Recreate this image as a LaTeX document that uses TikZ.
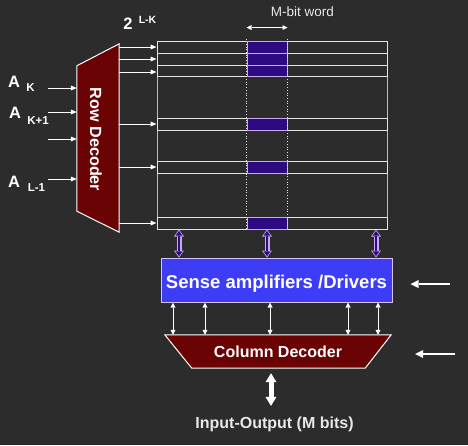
\documentclass[tikz,border=0pt]{standalone}
\usepackage{fontspec}
\setmainfont{Liberation Sans}
\usetikzlibrary{arrows.meta,backgrounds}
\definecolor{bgc}{HTML}{2C2C2C}
\definecolor{rowc}{HTML}{E4E4E4}
\definecolor{framec}{HTML}{BDBDBD}
\definecolor{purp}{HTML}{2D0A82}
\definecolor{lav}{HTML}{C9A8F2}
\definecolor{maroon}{HTML}{6A0404}
\definecolor{senseblue}{HTML}{3D3DF8}
\definecolor{txtc}{HTML}{E8E8E8}
\tikzset{
  rowbox/.style={draw=rowc, line width=1pt, minimum width=230pt, inner sep=0pt},
  cellbox/.style={draw=lav, fill=purp, line width=1pt, minimum width=40pt, inner sep=0pt},
  dotline/.style={draw=rowc, dotted, line width=0.7pt},
  thinarr/.style={draw=white, line width=0.9pt, -{Triangle[width=5pt,length=6pt,line width=0pt]}},
  smallbiarr/.style={draw=white, line width=0.9pt, {Triangle[width=5pt,length=5pt,line width=0pt]}-{Triangle[width=5pt,length=5pt,line width=0pt]}},
  rightarr/.style={draw=white, line width=2.2pt, -{Triangle[width=8pt,length=8pt,line width=0pt]}},
  bigbiarr/.style={draw=white, line width=5pt, {Triangle[width=11pt,length=9pt,line width=0pt]}-{Triangle[width=11pt,length=9pt,line width=0pt]}},
  purpout/.style={draw=lav, line width=5pt, {Triangle[width=10pt,length=7pt,line width=0pt]}-{Triangle[width=10pt,length=7pt,line width=0pt]}},
  purpin/.style={draw=purp, line width=2.6pt, shorten <=1.4pt, shorten >=1.4pt, {Triangle[width=7pt,length=4.8pt,line width=0pt]}-{Triangle[width=7pt,length=4.8pt,line width=0pt]}},
  lbl/.style={text=white, font=\bfseries\fontsize{16.5}{18}\selectfont, inner sep=0pt},
  sublbl/.style={text=white, font=\bfseries\fontsize{11.5}{13}\selectfont, inner sep=0pt},
  decfill/.style={fill=maroon, draw=white, line width=1pt, line join=miter},
}
\begin{document}
\begin{tikzpicture}[x=1pt,y=-1pt]
\useasboundingbox (0,0) rectangle (468,445);

% memory array frame
\node[draw=framec, line width=1pt, minimum width=230pt, minimum height=188pt, inner sep=0pt] (array) at (272,135) {};

% rows
\node[rowbox, minimum height=12pt] (r1) at (272,47) {};
\node[rowbox, minimum height=12pt] (r2) at (272,59) {};
\node[rowbox, minimum height=11pt] (r3) at (272,70.5) {};
\node[rowbox, minimum height=12pt] (r4) at (272,124) {};
\node[rowbox, minimum height=12pt] (r5) at (272,167) {};
\node[rowbox, minimum height=12pt] (r6) at (272,223) {};

% word cells
\node[cellbox, minimum height=12pt] (c1) at (267,47) {};
\node[cellbox, minimum height=12pt] (c2) at (267,59) {};
\node[cellbox, minimum height=11pt] (c3) at (267,70.5) {};
\node[cellbox, minimum height=12pt] (c4) at (267,124) {};
\node[cellbox, minimum height=12pt] (c5) at (267,167) {};
\node[cellbox, minimum height=12pt] (c6) at (267,223) {};

% dotted word boundaries
\draw[dotline] ([yshift=2pt]c1.north west) -- (c1.north west |- array.south);
\draw[dotline] ([yshift=2pt]c1.north east) -- (c1.north east |- array.south);

% M-bit word
\draw[white, line width=1pt, {Triangle[width=5pt,length=5pt,line width=0pt]}-{Triangle[width=5pt,length=5pt,line width=0pt]}]
  ([yshift=13pt]c1.north west) -- ([yshift=13pt]c1.north east);
\node[text=txtc, font=\fontsize{13.5}{15}\selectfont, inner sep=0pt] (mword) at (302.5,12) {M-bit word};

% 2^{L-K}
\node[lbl] (two) at (128,24) {2};
\node[sublbl, font=\bfseries\fontsize{10.5}{12}\selectfont] (lk) at (147.5,20) {L-K};

% row decoder
\node[minimum width=42pt, minimum height=188pt, inner sep=0pt] (rowdec) at (98,138) {};
\node[rotate=-90, text=white, font=\bfseries\fontsize{16.2}{18}\selectfont, inner sep=0pt] (rowdectxt) at (96,139.5) {Row Decoder};

% address inputs
\node[lbl] (a1) at (14,82) {A};
\node[sublbl] (s1) at (30.5,87.5) {K};
\node[lbl] (a2) at (15,113) {A};
\node[sublbl] (s2) at (38,120.5) {K+1};
\node[lbl] (a3) at (14,182) {A};
\node[sublbl] (s3) at (36.5,187.5) {L-1};

\coordinate (i1) at (48,88);
\coordinate (i2) at (48,112);
\coordinate (i3) at (48,139);
\coordinate (i4) at (48,179);
\foreach \i in {i1,i2,i3,i4} \draw[thinarr] (\i) -- (\i -| rowdec.west);

% row decoder outputs
\draw[thinarr] (rowdec.east |- r1) -- (r1.west);
\draw[thinarr] (rowdec.east |- r2) -- (r2.west);
\draw[thinarr] ([yshift=-1.5pt]rowdec.east |- r3) -- ([yshift=-1.5pt]r3.west);
\draw[thinarr] (rowdec.east |- r4) -- (r4.west);
\draw[thinarr] (rowdec.east |- r5) -- (r5.west);
\draw[thinarr] (rowdec.east |- r6) -- (r6.west);

% sense amplifiers
\node[draw=lav!70!white, fill=senseblue, line width=1pt, minimum width=231pt, minimum height=44pt, inner sep=0pt,
      text=white, font=\bfseries\fontsize{18.5}{20}\selectfont, text height=16pt, text depth=0pt] (sense) at (276.5,280) {Sense amplifiers /Drivers};

% column decoder
\node[minimum width=226pt, minimum height=33pt, inner sep=0pt, text=white,
      font=\bfseries\fontsize{16}{18}\selectfont, text height=12.4pt, text depth=0pt] (coldec) at (278,351.5) {Column Decoder};

% purple bidirectional arrows
\foreach \x in {179,267,376} {
  \draw[purpout] (array.south -| \x,0) -- (sense.north -| \x,0);
  \draw[purpin] (array.south -| \x,0) -- (sense.north -| \x,0);
}

% small white arrows
\foreach \x in {173,205,270,348,378}
  \draw[smallbiarr] (sense.south -| \x,0) -- (coldec.north -| \x,0);

% control arrows
\coordinate (ctl1) at (450,284);
\coordinate (ctl2) at (455,354);
\draw[rightarr] (ctl1) -- ([xshift=18pt]sense.east |- ctl1);
\draw[rightarr] (ctl2) -- ([xshift=24pt]coldec.east |- ctl2);

% input-output
\node[anchor=base, text=txtc, font=\bfseries\fontsize{16}{18}\selectfont] (io) at (274.5,428) {Input-Output (M bits)};
\draw[bigbiarr] ([yshift=-5pt]coldec.south -| 271,0) -- ([yshift=7pt]io.north -| 271,0);

\begin{scope}[on background layer]
  \fill[bgc] (0,0) rectangle (468,445);
  \draw[decfill] ([yshift=-22pt]rowdec.north west) -- (rowdec.north east) -- (rowdec.south east)
     -- ([yshift=21pt]rowdec.south west) -- cycle;
  \draw[decfill] (coldec.north west) -- (coldec.north east) -- ([xshift=-26pt]coldec.south east)
     -- ([xshift=27pt]coldec.south west) -- cycle;
\end{scope}
\end{tikzpicture}
\end{document}
